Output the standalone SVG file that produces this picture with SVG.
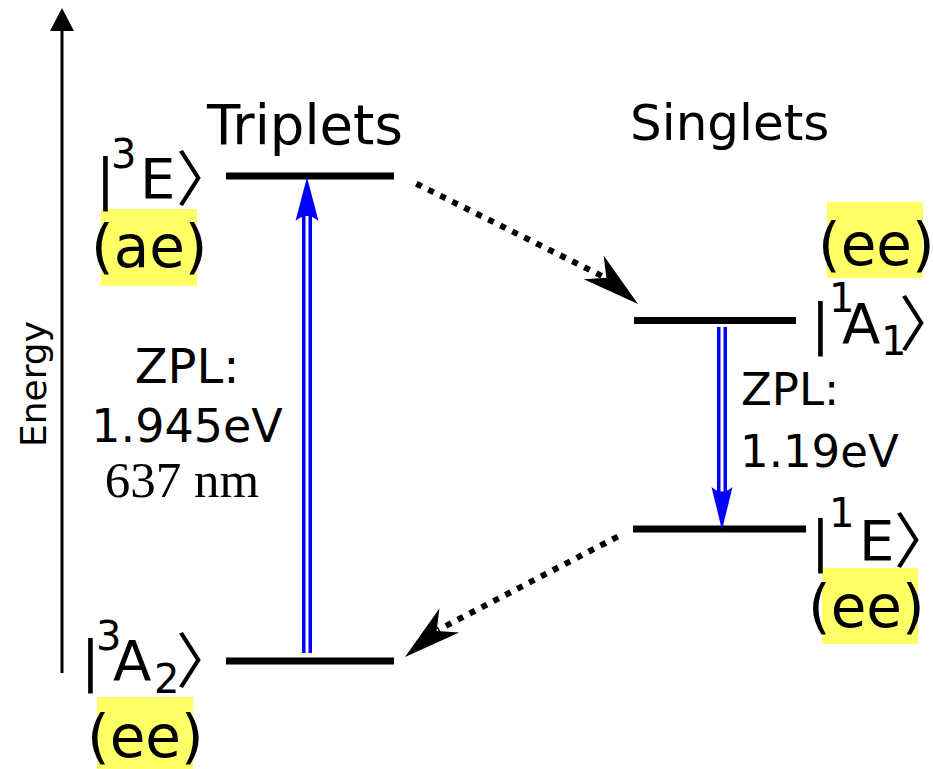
<svg xmlns="http://www.w3.org/2000/svg" width="933" height="769" viewBox="0 0 933 769">
<style>
text{font-family:"DejaVu Sans",sans-serif;fill:#000}
.lbl{font-size:56px}
.ss{font-size:40px}
.br{font-family:"Noto Sans CJK SC","DejaVu Sans",sans-serif;font-size:60px}
.occ{font-size:58px}
.zpl{font-size:48px}
.zpr{font-size:45px}
.serif{font-family:"Liberation Serif","Times New Roman",serif;font-size:51px}
.lvl{stroke:#000;stroke-width:7;fill:none}
.hl{fill:#ffff66}
.dot{stroke:#000;stroke-width:6;stroke-dasharray:6 7.4;fill:none}
.bo{stroke:#0000ff;stroke-width:10;fill:none}
.bi{stroke:#fff;stroke-width:3;fill:none}
.bh{fill:#0000ff}
</style>
<g id="axis">
<line x1="62" y1="673" x2="62" y2="28" stroke="#000" stroke-width="3"/>
<polygon points="62,8 74,31 50,31" fill="#000"/>
<text font-size="36" transform="translate(46,384) rotate(-90)" text-anchor="middle">Energy</text>
</g>
<g id="titles">
<text font-size="54.5" x="207" y="144">Triplets</text>
<text font-size="50" x="630" y="140">Singlets</text>
</g>
<g id="level-3E">
<line class="lvl" x1="226" y1="176" x2="394" y2="176"/>
<rect class="hl" x="101" y="209" width="96" height="77"/>
<text class="lbl" y="198"><tspan x="96">|</tspan><tspan class="ss" x="111" y="168">3</tspan><tspan x="140" y="198">E</tspan><tspan class="br" x="176" y="201">〉</tspan></text>
<text class="occ" x="91" y="267">(ae)</text>
</g>
<g id="level-3A2">
<line class="lvl" x1="226" y1="661" x2="394" y2="661"/>
<rect class="hl" x="97" y="697" width="96" height="72"/>
<text class="lbl" y="680"><tspan x="81">|</tspan><tspan class="ss" x="96" y="650">3</tspan><tspan x="113" y="680">A</tspan><tspan class="ss" x="154" y="693">2</tspan><tspan class="br" x="176" y="683">〉</tspan></text>
<text class="occ" x="87" y="757">(ee)</text>
</g>
<g id="level-1A1">
<line class="lvl" x1="634" y1="320.5" x2="796" y2="320.5"/>
<rect class="hl" x="827" y="202" width="96" height="76"/>
<text class="occ" x="818" y="265">(ee)</text>
<text class="lbl" y="343"><tspan x="811">|</tspan><tspan class="ss" x="829" y="312">1</tspan><tspan x="842" y="343">A</tspan><tspan class="ss" x="881" y="355">1</tspan><tspan class="br" x="899" y="346">〉</tspan></text>
</g>
<g id="level-1E">
<line class="lvl" x1="633" y1="529" x2="806" y2="529"/>
<rect class="hl" x="822" y="568" width="96" height="76"/>
<text class="lbl" y="560"><tspan x="811">|</tspan><tspan class="ss" x="829" y="527">1</tspan><tspan x="859" y="560">E</tspan><tspan class="br" x="894" y="563">〉</tspan></text>
<text class="occ" x="808" y="627">(ee)</text>
</g>
<g id="zpl-left">
<text class="zpl" x="187" y="383" text-anchor="middle">ZPL:</text>
<text font-size="46" x="187" y="442" text-anchor="middle">1.945eV</text>
<text class="serif" x="182" y="497" text-anchor="middle">637 nm</text>
</g>
<g id="zpl-right">
<text class="zpr" x="741" y="405">ZPL:</text>
<text class="zpr" x="740" y="467">1.19eV</text>
</g>
<g id="connectors">
<line class="bo" x1="307" y1="653" x2="307" y2="214"/>
<line class="bi" x1="307" y1="653" x2="307" y2="216"/>
<path class="bh" d="M307,177 L318.5,221 Q307,211 295.5,221 Z"/>
<line class="bo" x1="722" y1="327" x2="722" y2="494"/>
<line class="bi" x1="722" y1="327" x2="722" y2="492"/>
<path class="bh" d="M722,530 L732.5,487 Q722,496 711.5,487 Z"/>
<path class="dot" d="M416.3,183.7 L606,278"/>
<polygon points="638,304 603.6,255.4 606.4,277.8 583.8,279.2" fill="#000"/>
<path class="dot" d="M617.7,536.6 L438,630"/>
<polygon points="405,657 439.4,608.4 436.6,630.9 459.2,632.4" fill="#000"/>
</g>
</svg>
